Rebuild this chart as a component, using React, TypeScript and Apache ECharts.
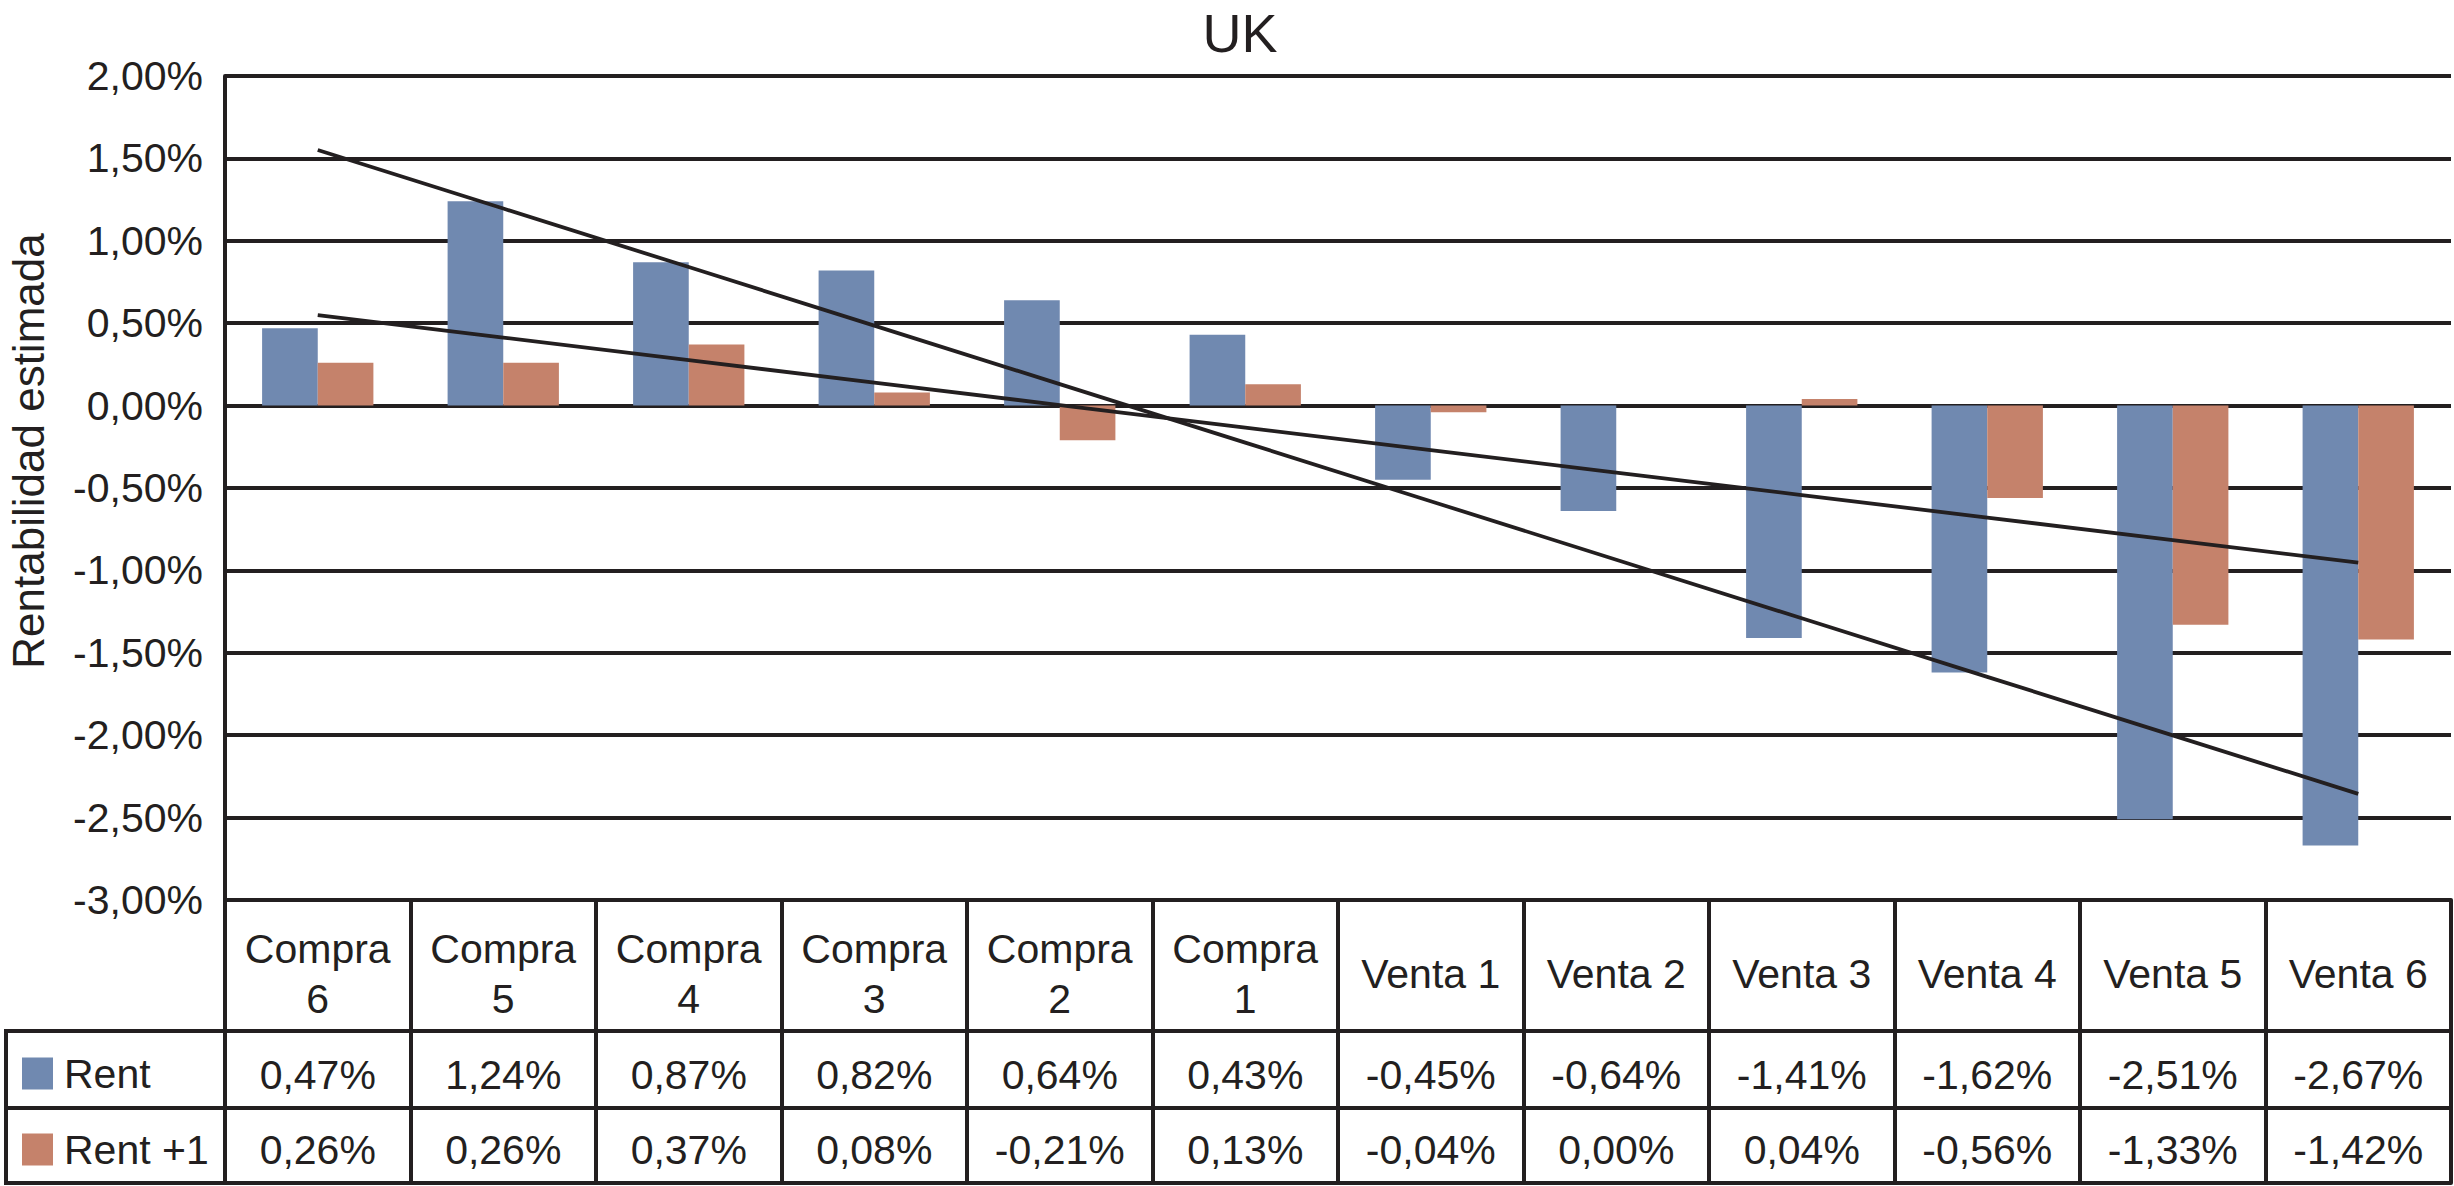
import React, { useEffect, useRef } from 'react';
import * as echarts from 'echarts';

// ---- data ----
const categories = [
  'Compra\n6', 'Compra\n5', 'Compra\n4', 'Compra\n3', 'Compra\n2', 'Compra\n1',
  'Venta 1', 'Venta 2', 'Venta 3', 'Venta 4', 'Venta 5', 'Venta 6',
];
const rent = [0.47, 1.24, 0.87, 0.82, 0.64, 0.43, -0.45, -0.64, -1.41, -1.62, -2.51, -2.67];
const rentNext = [0.26, 0.26, 0.37, 0.08, -0.21, 0.13, -0.04, 0.0, 0.04, -0.56, -1.33, -1.42];
const seriesNames = ['Rent', 'Rent +1'];
const chartTitle = 'UK';
const yTitle = 'Rentabilidad estimada';
const yMin = -3;
const yMax = 2;
const yStep = 0.5;

// ---- style ----
const INK = '#231F20';
const BLUE = '#7089B0';
const SALMON = '#C5826B';
const FONT = "'Liberation Sans', Arial, Helvetica, sans-serif";

const W = 2454;
const H = 1186;
const GRID_L = 225;
const GRID_R = 2451;
const GRID_T = 76;
const GRID_B = 900;
const ROW1 = 1031;
const ROW2 = 1108;
const ROW3 = 1183;
const TABLE_L = 6;

const fmt = (v: number) => v.toFixed(2).replace('.', ',') + '%';

// least-squares linear trend (as Excel's linear trendline)
function linearTrend(v: number[]) {
  const n = v.length;
  const mx = (n - 1) / 2;
  const my = v.reduce((a, b) => a + b, 0) / n;
  let sxy = 0;
  let sxx = 0;
  v.forEach((y, i) => {
    sxy += (i - mx) * (y - my);
    sxx += (i - mx) * (i - mx);
  });
  const b = sxy / sxx;
  return v.map((_, i) => my + b * (i - mx));
}

function tableAxis(offset: number, data: string[], margin: number, tickLen: number, showLabel: boolean) {
  return {
    type: 'category',
    data,
    position: 'bottom',
    offset,
    boundaryGap: true,
    axisLine: { show: true, onZero: false, lineStyle: { color: INK, width: 4 } },
    axisTick: { show: tickLen > 0, length: tickLen, interval: 0, lineStyle: { color: INK, width: 4 } },
    axisLabel: {
      show: showLabel,
      interval: 0,
      margin,
      verticalAlign: 'middle',
      fontSize: 41,
      lineHeight: 50,
      fontFamily: FONT,
      color: INK,
    },
    splitLine: { show: false },
  };
}

export default function App() {
  const ref = useRef<HTMLDivElement>(null);

  useEffect(() => {
    if (!ref.current) return;
    const chart = echarts.init(ref.current, undefined, { renderer: 'svg' });

    const legendRow = (y0: number, y1: number, color: string, name: string) => {
      const mid = (y0 + y1) / 2 + 4;
      return [
        { type: 'rect', shape: { x: 22, y: mid - 16, width: 31, height: 32 }, style: { fill: color } },
        {
          type: 'text',
          x: 64,
          y: mid,
          style: { text: name, fontSize: 41, fontFamily: FONT, fill: INK, align: 'left', verticalAlign: 'middle' },
        },
      ];
    };

    const hLine = (y: number) => ({
      type: 'line',
      shape: { x1: TABLE_L, y1: y, x2: GRID_L, y2: y },
      style: { stroke: INK, lineWidth: 4 },
    });

    chart.setOption({
      animation: false,
      backgroundColor: '#ffffff',
      grid: { left: GRID_L, right: W - GRID_R, top: GRID_T, bottom: H - GRID_B, containLabel: false },
      xAxis: [
        tableAxis(0, categories, 74, ROW1 - GRID_B, true),
        tableAxis(ROW1 - GRID_B, rent.map(fmt), 44, ROW2 - ROW1, true),
        tableAxis(ROW2 - GRID_B, rentNext.map(fmt), 42, ROW3 - ROW2, true),
        tableAxis(ROW3 - GRID_B, categories.map(() => ''), 0, 0, false),
      ],
      yAxis: {
        type: 'value',
        min: yMin,
        max: yMax,
        interval: yStep,
        axisLine: { show: true, lineStyle: { color: INK, width: 4 } },
        axisTick: { show: false },
        splitLine: { show: true, lineStyle: { color: INK, width: 4 } },
        axisLabel: { formatter: (v: number) => fmt(v), fontSize: 41, fontFamily: FONT, color: INK, margin: 22 },
      },
      series: [
        {
          name: seriesNames[0],
          type: 'bar',
          data: rent,
          itemStyle: { color: BLUE },
          barGap: '0%',
          barCategoryGap: '40%',
          xAxisIndex: 0,
        },
        {
          name: seriesNames[1],
          type: 'bar',
          data: rentNext,
          itemStyle: { color: SALMON },
          barGap: '0%',
          barCategoryGap: '40%',
          xAxisIndex: 0,
        },
        {
          name: 'Lineal (' + seriesNames[0] + ')',
          type: 'line',
          data: linearTrend(rent),
          symbol: 'none',
          silent: true,
          z: 5,
          lineStyle: { color: INK, width: 3.8 },
          xAxisIndex: 0,
        },
        {
          name: 'Lineal (' + seriesNames[1] + ')',
          type: 'line',
          data: linearTrend(rentNext),
          symbol: 'none',
          silent: true,
          z: 5,
          lineStyle: { color: INK, width: 3.8 },
          xAxisIndex: 0,
        },
      ],
      graphic: [
        {
          type: 'text',
          x: 1240,
          y: 33,
          style: { text: chartTitle, fontSize: 54, fontFamily: FONT, fill: INK, align: 'center', verticalAlign: 'middle' },
        },
        {
          type: 'text',
          x: 28,
          y: 451,
          rotation: Math.PI / 2,
          style: { text: yTitle, fontSize: 44, fontFamily: FONT, fill: INK, align: 'center', verticalAlign: 'middle' },
        },
        hLine(ROW1),
        hLine(ROW2),
        hLine(ROW3),
        {
          type: 'line',
          shape: { x1: TABLE_L, y1: ROW1 - 2, x2: TABLE_L, y2: ROW3 + 2 },
          style: { stroke: INK, lineWidth: 4 },
        },
        ...legendRow(ROW1, ROW2, BLUE, seriesNames[0]),
        ...legendRow(ROW2, ROW3, SALMON, seriesNames[1]),
      ],
    });

    return () => chart.dispose();
  }, []);

  return (
    <div
      ref={ref}
      style={{ position: 'fixed', left: 0, top: 0, width: W, height: H, background: '#fff' }}
    />
  );
}
